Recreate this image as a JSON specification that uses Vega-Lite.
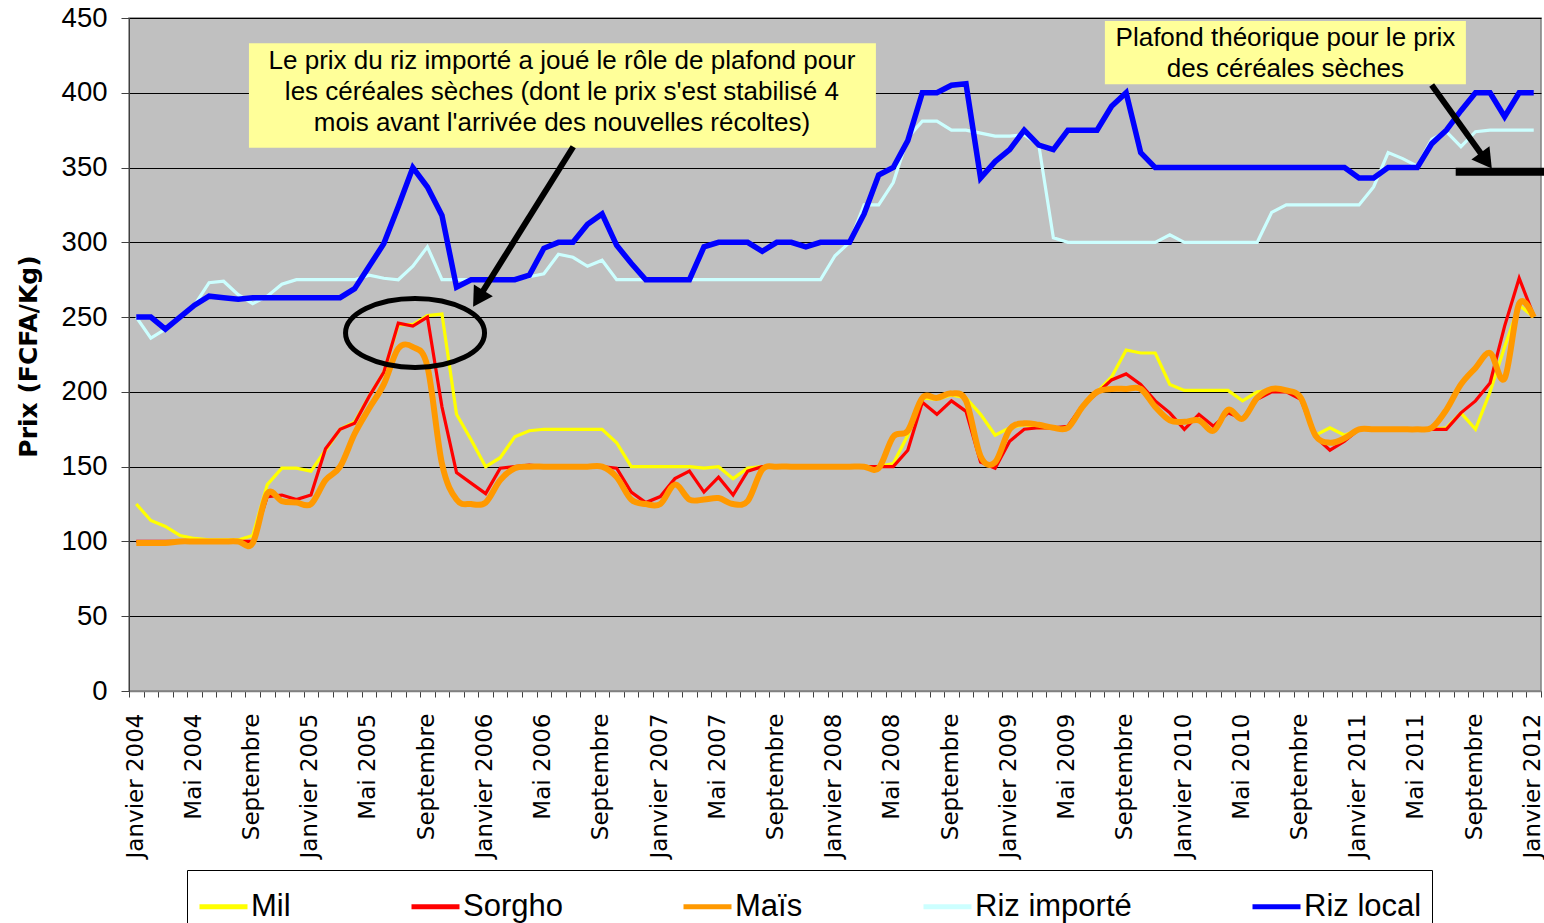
{
  "$schema": "https://vega.github.io/schema/vega-lite/v6.json",
  "width": 1412,
  "height": 673,
  "autosize": {"type": "none"},
  "padding": {"left": 129, "top": 18, "right": 3, "bottom": 232},
  "background": "white",
  "config": {
    "view": {"fill": "#C0C0C0", "stroke": "#808080", "strokeWidth": 1.5},
    "font": "Liberation Sans"
  },
  "datasets": {
    "prix": [
      {"t":0,"Mil":125,"Sorgho":100,"Mais":99,"RizImporte":250,"RizLocal":250},
      {"t":1,"Mil":114,"Sorgho":100,"Mais":99,"RizImporte":236,"RizLocal":250},
      {"t":2,"Mil":110,"Sorgho":100,"Mais":99,"RizImporte":242,"RizLocal":242},
      {"t":3,"Mil":104,"Sorgho":100,"Mais":100,"RizImporte":250,"RizLocal":250},
      {"t":4,"Mil":102,"Sorgho":100,"Mais":100,"RizImporte":258,"RizLocal":258},
      {"t":5,"Mil":101,"Sorgho":100,"Mais":100,"RizImporte":273,"RizLocal":264},
      {"t":6,"Mil":101,"Sorgho":100,"Mais":100,"RizImporte":274,"RizLocal":263},
      {"t":7,"Mil":101,"Sorgho":100,"Mais":100,"RizImporte":265,"RizLocal":262},
      {"t":8,"Mil":104,"Sorgho":100,"Mais":99,"RizImporte":259,"RizLocal":263},
      {"t":9,"Mil":138,"Sorgho":130,"Mais":132,"RizImporte":264,"RizLocal":263},
      {"t":10,"Mil":149,"Sorgho":131,"Mais":127,"RizImporte":272,"RizLocal":263},
      {"t":11,"Mil":149,"Sorgho":128,"Mais":126,"RizImporte":275,"RizLocal":263},
      {"t":12,"Mil":147,"Sorgho":131,"Mais":125,"RizImporte":275,"RizLocal":263},
      {"t":13,"Mil":161,"Sorgho":162,"Mais":141,"RizImporte":275,"RizLocal":263},
      {"t":14,"Mil":175,"Sorgho":175,"Mais":150,"RizImporte":275,"RizLocal":263},
      {"t":15,"Mil":180,"Sorgho":179,"Mais":172,"RizImporte":275,"RizLocal":269},
      {"t":16,"Mil":197,"Sorgho":197,"Mais":189,"RizImporte":278,"RizLocal":284},
      {"t":17,"Mil":213,"Sorgho":213,"Mais":205,"RizImporte":276,"RizLocal":299},
      {"t":18,"Mil":245,"Sorgho":246,"Mais":229,"RizImporte":275,"RizLocal":324},
      {"t":19,"Mil":245,"Sorgho":244,"Mais":230,"RizImporte":284,"RizLocal":350},
      {"t":20,"Mil":251,"Sorgho":250,"Mais":217,"RizImporte":297,"RizLocal":337},
      {"t":21,"Mil":252,"Sorgho":190,"Mais":152,"RizImporte":275,"RizLocal":318},
      {"t":22,"Mil":185,"Sorgho":146,"Mais":128,"RizImporte":275,"RizLocal":270},
      {"t":23,"Mil":168,"Sorgho":139,"Mais":125,"RizImporte":275,"RizLocal":275},
      {"t":24,"Mil":150,"Sorgho":132,"Mais":126,"RizImporte":275,"RizLocal":275},
      {"t":25,"Mil":156,"Sorgho":149,"Mais":141,"RizImporte":275,"RizLocal":275},
      {"t":26,"Mil":170,"Sorgho":150,"Mais":149,"RizImporte":275,"RizLocal":275},
      {"t":27,"Mil":174,"Sorgho":151,"Mais":150,"RizImporte":277,"RizLocal":278},
      {"t":28,"Mil":175,"Sorgho":150,"Mais":150,"RizImporte":279,"RizLocal":296},
      {"t":29,"Mil":175,"Sorgho":150,"Mais":150,"RizImporte":292,"RizLocal":300},
      {"t":30,"Mil":175,"Sorgho":150,"Mais":150,"RizImporte":290,"RizLocal":300},
      {"t":31,"Mil":175,"Sorgho":150,"Mais":150,"RizImporte":284,"RizLocal":312},
      {"t":32,"Mil":175,"Sorgho":150,"Mais":150,"RizImporte":288,"RizLocal":319},
      {"t":33,"Mil":166,"Sorgho":149,"Mais":143,"RizImporte":275,"RizLocal":298},
      {"t":34,"Mil":150,"Sorgho":133,"Mais":128,"RizImporte":275,"RizLocal":286},
      {"t":35,"Mil":150,"Sorgho":126,"Mais":125,"RizImporte":275,"RizLocal":275},
      {"t":36,"Mil":150,"Sorgho":130,"Mais":125,"RizImporte":275,"RizLocal":275},
      {"t":37,"Mil":150,"Sorgho":142,"Mais":138,"RizImporte":275,"RizLocal":275},
      {"t":38,"Mil":150,"Sorgho":147,"Mais":128,"RizImporte":275,"RizLocal":275},
      {"t":39,"Mil":149,"Sorgho":133,"Mais":128,"RizImporte":275,"RizLocal":297},
      {"t":40,"Mil":150,"Sorgho":143,"Mais":129,"RizImporte":275,"RizLocal":300},
      {"t":41,"Mil":142,"Sorgho":131,"Mais":125,"RizImporte":275,"RizLocal":300},
      {"t":42,"Mil":149,"Sorgho":147,"Mais":127,"RizImporte":275,"RizLocal":300},
      {"t":43,"Mil":150,"Sorgho":150,"Mais":148,"RizImporte":275,"RizLocal":294},
      {"t":44,"Mil":150,"Sorgho":150,"Mais":150,"RizImporte":275,"RizLocal":300},
      {"t":45,"Mil":150,"Sorgho":150,"Mais":150,"RizImporte":275,"RizLocal":300},
      {"t":46,"Mil":150,"Sorgho":150,"Mais":150,"RizImporte":275,"RizLocal":297},
      {"t":47,"Mil":150,"Sorgho":150,"Mais":150,"RizImporte":275,"RizLocal":300},
      {"t":48,"Mil":150,"Sorgho":150,"Mais":150,"RizImporte":291,"RizLocal":300},
      {"t":49,"Mil":150,"Sorgho":150,"Mais":150,"RizImporte":300,"RizLocal":300},
      {"t":50,"Mil":150,"Sorgho":150,"Mais":150,"RizImporte":325,"RizLocal":319},
      {"t":51,"Mil":150,"Sorgho":150,"Mais":149,"RizImporte":325,"RizLocal":345},
      {"t":52,"Mil":152,"Sorgho":150,"Mais":170,"RizImporte":340,"RizLocal":350},
      {"t":53,"Mil":171,"Sorgho":161,"Mais":174,"RizImporte":370,"RizLocal":368},
      {"t":54,"Mil":196,"Sorgho":193,"Mais":196,"RizImporte":381,"RizLocal":400},
      {"t":55,"Mil":195,"Sorgho":185,"Mais":196,"RizImporte":381,"RizLocal":400},
      {"t":56,"Mil":198,"Sorgho":194,"Mais":199,"RizImporte":375,"RizLocal":405},
      {"t":57,"Mil":196,"Sorgho":187,"Mais":194,"RizImporte":375,"RizLocal":406},
      {"t":58,"Mil":185,"Sorgho":153,"Mais":157,"RizImporte":373,"RizLocal":343},
      {"t":59,"Mil":171,"Sorgho":149,"Mais":153,"RizImporte":371,"RizLocal":354},
      {"t":60,"Mil":176,"Sorgho":167,"Mais":175,"RizImporte":371,"RizLocal":362},
      {"t":61,"Mil":178,"Sorgho":175,"Mais":179,"RizImporte":372,"RizLocal":375},
      {"t":62,"Mil":176,"Sorgho":176,"Mais":178,"RizImporte":365,"RizLocal":365},
      {"t":63,"Mil":176,"Sorgho":176,"Mais":176,"RizImporte":303,"RizLocal":362},
      {"t":64,"Mil":176,"Sorgho":177,"Mais":176,"RizImporte":300,"RizLocal":375},
      {"t":65,"Mil":190,"Sorgho":191,"Mais":190,"RizImporte":300,"RizLocal":375},
      {"t":66,"Mil":200,"Sorgho":199,"Mais":200,"RizImporte":300,"RizLocal":375},
      {"t":67,"Mil":210,"Sorgho":208,"Mais":202,"RizImporte":300,"RizLocal":391},
      {"t":68,"Mil":228,"Sorgho":212,"Mais":202,"RizImporte":300,"RizLocal":400},
      {"t":69,"Mil":226,"Sorgho":205,"Mais":202,"RizImporte":300,"RizLocal":360},
      {"t":70,"Mil":226,"Sorgho":194,"Mais":190,"RizImporte":300,"RizLocal":350},
      {"t":71,"Mil":205,"Sorgho":186,"Mais":181,"RizImporte":305,"RizLocal":350},
      {"t":72,"Mil":201,"Sorgho":175,"Mais":180,"RizImporte":300,"RizLocal":350},
      {"t":73,"Mil":201,"Sorgho":185,"Mais":181,"RizImporte":300,"RizLocal":350},
      {"t":74,"Mil":201,"Sorgho":177,"Mais":174,"RizImporte":300,"RizLocal":350},
      {"t":75,"Mil":201,"Sorgho":186,"Mais":188,"RizImporte":300,"RizLocal":350},
      {"t":76,"Mil":194,"Sorgho":182,"Mais":182,"RizImporte":300,"RizLocal":350},
      {"t":77,"Mil":200,"Sorgho":195,"Mais":196,"RizImporte":300,"RizLocal":350},
      {"t":78,"Mil":201,"Sorgho":200,"Mais":202,"RizImporte":320,"RizLocal":350},
      {"t":79,"Mil":201,"Sorgho":200,"Mais":201,"RizImporte":325,"RizLocal":350},
      {"t":80,"Mil":197,"Sorgho":195,"Mais":196,"RizImporte":325,"RizLocal":350},
      {"t":81,"Mil":171,"Sorgho":170,"Mais":171,"RizImporte":325,"RizLocal":350},
      {"t":82,"Mil":176,"Sorgho":161,"Mais":166,"RizImporte":325,"RizLocal":350},
      {"t":83,"Mil":171,"Sorgho":167,"Mais":169,"RizImporte":325,"RizLocal":350},
      {"t":84,"Mil":175,"Sorgho":175,"Mais":175,"RizImporte":325,"RizLocal":343},
      {"t":85,"Mil":175,"Sorgho":175,"Mais":175,"RizImporte":337,"RizLocal":343},
      {"t":86,"Mil":175,"Sorgho":175,"Mais":175,"RizImporte":360,"RizLocal":350},
      {"t":87,"Mil":175,"Sorgho":175,"Mais":175,"RizImporte":356,"RizLocal":350},
      {"t":88,"Mil":175,"Sorgho":175,"Mais":175,"RizImporte":351,"RizLocal":350},
      {"t":89,"Mil":175,"Sorgho":175,"Mais":176,"RizImporte":369,"RizLocal":366},
      {"t":90,"Mil":176,"Sorgho":175,"Mais":188,"RizImporte":374,"RizLocal":375},
      {"t":91,"Mil":186,"Sorgho":186,"Mais":205,"RizImporte":364,"RizLocal":388},
      {"t":92,"Mil":175,"Sorgho":194,"Mais":216,"RizImporte":374,"RizLocal":400},
      {"t":93,"Mil":200,"Sorgho":206,"Mais":226,"RizImporte":375,"RizLocal":400},
      {"t":94,"Mil":230,"Sorgho":244,"Mais":209,"RizImporte":375,"RizLocal":384},
      {"t":95,"Mil":258,"Sorgho":276,"Mais":259,"RizImporte":375,"RizLocal":400},
      {"t":96,"Mil":250,"Sorgho":251,"Mais":250,"RizImporte":375,"RizLocal":400}
    ],
    "cadres": [
      {"t": 7.74, "t2": 50.81, "prix": 433.1, "prix2": 363.3},
      {"t": 66.54, "t2": 91.34, "prix": 448.0, "prix2": 405.7}
    ],
    "textes": [
      {"t": 29.24, "prix": 421.3, "txt": "Le prix du riz importé a joué le rôle de plafond pour"},
      {"t": 29.24, "prix": 400.8, "txt": "les céréales sèches (dont le prix s'est stabilisé 4"},
      {"t": 29.24, "prix": 380.0, "txt": "mois avant l'arrivée des nouvelles récoltes)"},
      {"t": 78.94, "prix": 436.9, "txt": "Plafond théorique pour le prix"},
      {"t": 78.94, "prix": 415.7, "txt": "des céréales sèches"}
    ],
    "fleches": [
      {"t": 30.02, "prix": 363.9, "t2": 23.49, "prix2": 262.4},
      {"t": 88.99, "prix": 405.2, "t2": 92.73, "prix2": 354.6}
    ],
    "plafond": [
      {"t": 90.64, "t2": 97, "prix": 347.2}
    ]
  },
  "encoding": {
    "x": {
      "field": "t", "type": "quantitative",
      "scale": {"domain": [-0.5, 96.5], "nice": false, "zero": false},
      "axis": {
        "values": [-0.5,0.5,1.5,2.5,3.5,4.5,5.5,6.5,7.5,8.5,9.5,10.5,11.5,12.5,13.5,14.5,15.5,16.5,17.5,18.5,19.5,20.5,21.5,22.5,23.5,24.5,25.5,26.5,27.5,28.5,29.5,30.5,31.5,32.5,33.5,34.5,35.5,36.5,37.5,38.5,39.5,40.5,41.5,42.5,43.5,44.5,45.5,46.5,47.5,48.5,49.5,50.5,51.5,52.5,53.5,54.5,55.5,56.5,57.5,58.5,59.5,60.5,61.5,62.5,63.5,64.5,65.5,66.5,67.5,68.5,69.5,70.5,71.5,72.5,73.5,74.5,75.5,76.5,77.5,78.5,79.5,80.5,81.5,82.5,83.5,84.5,85.5,86.5,87.5,88.5,89.5,90.5,91.5,92.5,93.5,94.5,95.5,96.5],
        "labelExpr": "(datum.value + 0.5) % 4 == 0 ? ['Janvier 2004','Mai 2004','Septembre','Janvier 2005','Mai 2005','Septembre','Janvier 2006','Mai 2006','Septembre','Janvier 2007','Mai 2007','Septembre','Janvier 2008','Mai 2008','Septembre','Janvier 2009','Mai 2009','Septembre','Janvier 2010','Mai 2010','Septembre','Janvier 2011','Mai 2011','Septembre','Janvier 2012'][(datum.value + 0.5) / 4] : ''",
        "labelAngle": -90,
        "labelAlign": "right",
        "labelBaseline": "middle",
        "labelOffset": 6,
        "labelPadding": 16,
        "labelOverlap": false,
        "labelFlush": false,
        "labelBound": false,
        "labelLimit": 0,
        "labelFont": "DejaVu Sans",
        "labelFontSize": 23,
        "labelColor": "black",
        "ticks": true,
        "tickSize": 6,
        "tickColor": "#404040",
        "tickWidth": 1,
        "domainColor": "#808080",
        "domainWidth": 1.5,
        "grid": false,
        "title": null
      }
    },
    "y": {
      "field": "prix", "type": "quantitative",
      "scale": {"domain": [0, 450], "nice": false},
      "axis": {
        "values": [0,50,100,150,200,250,300,350,400,450],
        "grid": true,
        "gridColor": "black",
        "gridWidth": 1,
        "tickSize": 8,
        "tickColor": "#404040",
        "domainColor": "#404040",
        "labelFont": "Liberation Sans",
        "labelFontSize": 27.5,
        "labelPadding": 14,
        "labelColor": "black",
        "labelFlush": false,
        "title": "Prix (FCFA/Kg)",
        "titleFont": "DejaVu Sans",
        "titleFontSize": 25,
        "titleFontWeight": "bold",
        "titleColor": "black",
        "titleX": -101,
        "titleY": 338,
        "titleAngle": -90,
        "titleAlign": "center",
        "titleBaseline": "middle"
      }
    }
  },
  "layer": [
    {
      "data": {"name": "cadres"},
      "mark": {"type": "rect", "fill": "#FFFF99"},
      "encoding": {
        "x2": {"field": "t2"},
        "y2": {"field": "prix2"}
      }
    },
    {
      "data": {"name": "textes"},
      "mark": {"type": "text", "font": "Liberation Sans", "fontSize": 26, "align": "center", "baseline": "middle", "color": "black"},
      "encoding": {
        "text": {"field": "txt"}
      }
    },
    {
      "data": {"name": "prix"},
      "transform": [{"fold": ["Mil"], "as": ["serie", "prix"]}],
      "mark": {"type": "line", "strokeWidth": 3.2},
      "encoding": {
        "color": {
          "datum": "Mil", "type": "nominal",
          "scale": {
            "domain": ["Mil", "Sorgho", "Maïs", "Riz importé", "Riz local"],
            "range": ["#FFFF00", "#FF0000", "#FF9900", "#CCFFFF", "#0000FF"]
          },
          "legend": {
            "title": null,
            "orient": "none",
            "legendX": 58,
            "legendY": 852,
            "direction": "horizontal",
            "strokeColor": "black",
            "fillColor": "white",
            "padding": 10,
            "columnPadding": 110,
            "labelFont": "Liberation Sans",
            "labelFontSize": 31,
            "labelColor": "black",
            "labelOffset": 1,
            "labelLimit": 0,
            "symbolType": "stroke",
            "symbolSize": 2304,
            "symbolStrokeWidth": 5
          }
        }
      }
    },
    {
      "data": {"name": "prix"},
      "transform": [{"fold": ["Sorgho"], "as": ["serie", "prix"]}],
      "mark": {"type": "line", "strokeWidth": 3.2},
      "encoding": {
        "color": {"datum": "Sorgho", "type": "nominal", "legend": null}
      }
    },
    {
      "data": {"name": "prix"},
      "transform": [{"fold": ["Mais"], "as": ["serie", "prix"]}],
      "mark": {"type": "line", "strokeWidth": 6, "interpolate": "cardinal"},
      "encoding": {
        "color": {"datum": "Maïs", "type": "nominal", "legend": null}
      }
    },
    {
      "data": {"name": "prix"},
      "transform": [{"fold": ["RizImporte"], "as": ["serie", "prix"]}],
      "mark": {"type": "line", "strokeWidth": 3.2},
      "encoding": {
        "color": {"datum": "Riz importé", "type": "nominal", "legend": null}
      }
    },
    {
      "data": {"name": "prix"},
      "transform": [{"fold": ["RizLocal"], "as": ["serie", "prix"]}],
      "mark": {"type": "line", "strokeWidth": 5.5},
      "encoding": {
        "color": {"datum": "Riz local", "type": "nominal", "legend": null}
      }
    },
    {
      "data": {"name": "fleches"},
      "mark": {"type": "rule", "color": "black", "strokeWidth": 6},
      "encoding": {
        "x2": {"field": "t2"},
        "y2": {"field": "prix2"}
      }
    },
    {
      "data": {"name": "plafond"},
      "mark": {"type": "rule", "color": "black", "strokeWidth": 8},
      "encoding": {
        "x2": {"field": "t2"}
      }
    },
    {
      "data": {"values": [{"t": 23.49, "prix": 262.4}]},
      "mark": {"type": "point", "shape": "triangle-up", "filled": true, "color": "black", "opacity": 1, "size": 500, "angle": 212}
    },
    {
      "data": {"values": [{"t": 92.73, "prix": 354.6}]},
      "mark": {"type": "point", "shape": "triangle-up", "filled": true, "color": "black", "opacity": 1, "size": 500, "angle": 144}
    },
    {
      "data": {"values": [{"t": 19.15, "prix": 239.4}]},
      "mark": {
        "type": "point",
        "shape": "M -1 0 C -1 -0.274 -0.5523 -0.496 0 -0.496 C 0.5523 -0.496 1 -0.274 1 0 C 1 0.274 0.5523 0.496 0 0.496 C -0.5523 0.496 -1 0.274 -1 0 Z",
        "filled": false,
        "stroke": "black",
        "strokeWidth": 5,
        "opacity": 1,
        "size": 19321
      }
    }
  ]
}
